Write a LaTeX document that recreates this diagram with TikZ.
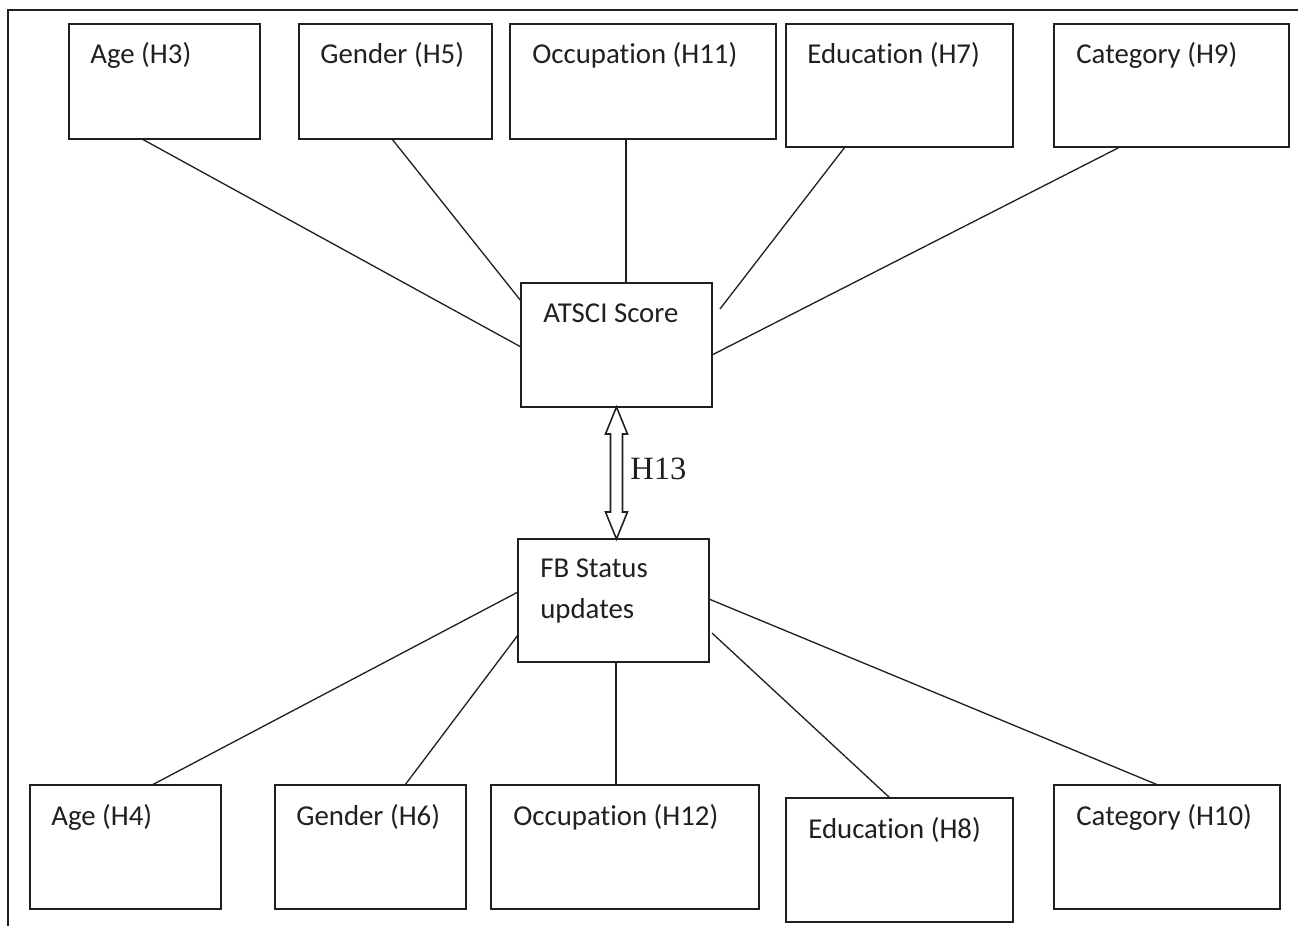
\documentclass[tikz,border=0pt]{standalone}
\usepackage{fontspec}
\setmainfont{Carlito}[Ligatures=NoCommon]
\newfontfamily\serifh{Liberation Serif}
\usetikzlibrary{calc}
\definecolor{ink}{HTML}{231F20}

\begin{document}
\begin{tikzpicture}[x=0.02cm, y=-0.02cm, ink,
		hyp/.style={draw, line width=0.9pt, inner sep=0pt, outer sep=0pt, anchor=north west, minimum height=2.48cm},
		hyptext/.style={anchor=base west, inner sep=0pt, font=\fontsize{16.4}{23.3}\selectfont, align=left},
		link/.style={line width=0.75pt},
		blockarrow/.style={line width=0.9pt, line join=miter}]
		\useasboundingbox (0,0) rectangle (1298,926);
		\draw[line width=1.1pt] (1298,10) -- (8,10) -- (8,926);

		\node[hyp, minimum width=3.82cm, minimum height=2.30cm] (age3) at (69,24) {};
		\node[hyp, minimum width=3.86cm, minimum height=2.30cm] (gen5) at (299,24) {};
		\node[hyp, minimum width=5.32cm, minimum height=2.30cm] (occ11) at (510,24) {};
		\node[hyp, minimum width=4.54cm, minimum height=2.46cm] (edu7) at (786,24) {};
		\node[hyp, minimum width=4.70cm, minimum height=2.46cm] (cat9) at (1054,24) {};
		\node[hyptext] (age3t) at ($(age3.north west)+(21,40)$) {Age (H3)};
		\node[hyptext] (gen5t) at ($(gen5.north west)+(21,40)$) {Gender (H5)};
		\node[hyptext] (occ11t) at ($(occ11.north west)+(22,40)$) {Occupation (H11)};
		\node[hyptext] (edu7t) at ($(edu7.north west)+(21,40)$) {Education (H7)};
		\node[hyptext] (cat9t) at ($(cat9.north west)+(22,40)$) {Category (H9)};

		\node[hyp, minimum width=3.82cm] (atsci) at (521,283) {};
		\node[hyp, minimum width=3.82cm, minimum height=2.46cm] (fb) at (518,539) {};
		\node[hyptext] (atscit) at ($(atsci.north west)+(22,39)$) {ATSCI Score};
		\node[hyptext] (fbt) at ($(fb.north west)+(22,79)$) {FB Status\\updates};

		\node[hyp, minimum width=3.82cm] (age4) at (30,785) {};
		\node[hyp, minimum width=3.82cm] (gen6) at (275,785) {};
		\node[hyp, minimum width=5.36cm] (occ12) at (491,785) {};
		\node[hyp, minimum width=4.54cm] (edu8) at (786,798) {};
		\node[hyp, minimum width=4.52cm] (cat10) at (1054,785) {};
		\node[hyptext] (age4t) at ($(age4.north west)+(21,40)$) {Age (H4)};
		\node[hyptext] (gen6t) at ($(gen6.north west)+(21,40)$) {Gender (H6)};
		\node[hyptext] (occ12t) at ($(occ12.north west)+(22,40)$) {Occupation (H12)};
		\node[hyptext] (edu8t) at ($(edu8.north west)+(22,40)$) {Education (H8)};
		\node[hyptext] (cat10t) at ($(cat10.north west)+(22,40)$) {Category (H10)};

		\draw[link] ($(age3.south west)+(73,0)$) -- ($(atsci.north west)+(0,64)$);
		\draw[link] ($(gen5.south west)+(93,0)$) -- ($(atsci.north west)+(0,18)$);
		\draw[link] ($(occ11.south west)+(116,0)$) -- ($(atsci.north west)+(105,0)$);
		\draw[link] ($(edu7.south west)+(59,0)$) -- ($(atsci.north east)+(8,26)$);
		\draw[link] ($(cat9.south west)+(66,0)$) -- ($(atsci.north east)+(0,72)$);

		\draw[link] ($(fb.north west)+(0,53)$) -- ($(age4.north west)+(122,0)$);
		\draw[link] ($(fb.north west)+(0,96)$) -- ($(gen6.north west)+(130,0)$);
		\draw[link] ($(fb.south west)+(98,0)$) -- ($(occ12.north west)+(125,0)$);
		\draw[link] ($(fb.north east)+(3,94)$) -- ($(edu8.north west)+(104,0)$);
		\draw[link] ($(fb.north east)+(0,60)$) -- ($(cat10.north west)+(104,0)$);

		\draw[blockarrow] (atsci.south) -- ++(11,27) -- ++(-5,0) -- ($(atsci.south |- fb.north)+(6,-27)$) -- ++(5,0) -- (atsci.south |- fb.north) -- ++(-11,-27) -- ++(5,0) -- ($(atsci.south)+(-6,27)$) -- ++(-5,0) -- cycle;
		\node[anchor=base west, inner sep=0pt, font=\serifh\fontsize{18.5}{20}\selectfont] (h13) at (630,479) {H13};
	\end{tikzpicture}
\end{document}
